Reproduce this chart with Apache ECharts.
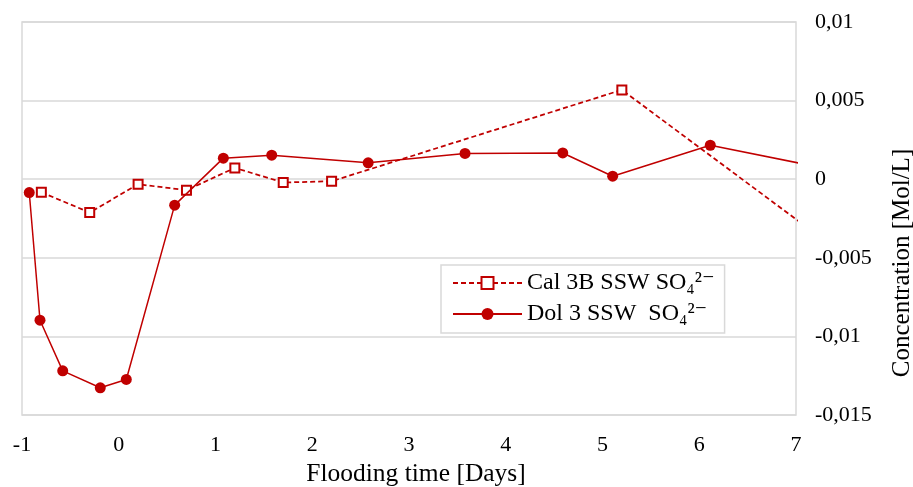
<!DOCTYPE html>
<html>
<head>
<meta charset="utf-8">
<script src="https://cdn.jsdelivr.net/npm/echarts@6/dist/echarts.min.js"></script>
<style>
  html, body { margin: 0; padding: 0; background: #fff; }
  #chart { width: 913px; height: 487px; }
</style>
</head>
<body>
<div id="chart"></div>
<script>
// Sulfate concentration vs. flooding time for two core samples
const seriesNames = ['Cal 3B SSW SO\u2084\u00B2\u207B', 'Dol 3 SSW  SO\u2084\u00B2\u207B'];

const calDays = [-0.80, -0.30, 0.20, 0.70, 1.20, 1.70, 2.20, 5.20, 8.20];
const calConc = [-0.00083, -0.00212, -0.00032, -0.00070, 0.00072, -0.00021, -0.00013, 0.00568, -0.00803];

const dolDays = [-0.925, -0.814, -0.579, -0.191, 0.078, 0.578, 1.081, 1.581, 2.578, 3.579, 4.589, 5.105, 6.114, 7.10];
const dolConc = [-0.00085, -0.00897, -0.01219, -0.01327, -0.01274, -0.00165, 0.00134, 0.00153, 0.00104, 0.00164, 0.00167, 0.00019, 0.00216, 0.00094];

const xTicks = { min: -1, max: 7, interval: 1 };
const yTicks = { min: -0.015, max: 0.01, interval: 0.005 };

const pair = (xs, ys) => xs.map((x, i) => [x, ys[i]]);
const red = '#C00000';
const serif = '"Liberation Serif", "DejaVu Serif", serif';
const fmtComma = v => {
  const r = Math.round(v * 1e6) / 1e6;
  return String(r).replace('.', ',');
};

const chart = echarts.init(document.getElementById('chart'), null, { renderer: 'canvas' });
chart.setOption({
  animation: false,
  backgroundColor: '#fff',
  textStyle: { fontFamily: serif },
  grid: {
    left: 22, right: 117, top: 22, bottom: 72,
    outerBoundsMode: 'none',
    containLabel: false,
    show: true, borderColor: '#D9D9D9', borderWidth: 1.5
  },
  legend: {
    orient: 'vertical',
    left: 441, top: 265,
    padding: [5, 10, 6, 11],
    itemWidth: 69, itemHeight: 15, itemGap: 5,
    backgroundColor: '#fff',
    borderColor: '#D9D9D9', borderWidth: 1.5,
    textStyle: { fontFamily: serif, fontSize: 24, color: '#000', lineHeight: 26 },
    data: seriesNames
  },
  xAxis: {
    type: 'value',
    min: xTicks.min, max: xTicks.max, interval: xTicks.interval,
    name: 'Flooding time [Days]',
    nameLocation: 'middle', nameGap: 46,
    nameTextStyle: { fontFamily: serif, fontSize: 25.5, color: '#000', padding: [0, 0, 0, 14] },
    axisLine: { show: false, onZero: false },
    axisTick: { show: false },
    splitLine: { show: false },
    axisLabel: { fontFamily: serif, fontSize: 22, color: '#000', margin: 19 }
  },
  yAxis: {
    type: 'value',
    position: 'right',
    min: yTicks.min, max: yTicks.max, interval: yTicks.interval,
    axisLine: { show: false },
    axisTick: { show: false },
    splitLine: { show: true, lineStyle: { color: '#D9D9D9', width: 1.5 } },
    axisLabel: { fontFamily: serif, fontSize: 22, color: '#000', margin: 19, formatter: fmtComma }
  },
  graphic: [{
    type: 'text',
    x: 902, y: 263,
    rotation: Math.PI / 2,
    style: {
      text: 'Concentration [Mol/L]',
      font: '25px ' + serif,
      fill: '#000',
      align: 'center',
      verticalAlign: 'middle'
    }
  }],
  series: [
    {
      name: seriesNames[0],
      type: 'line',
      data: pair(calDays, calConc),
      clip: true,
      symbol: 'rect',
      symbolSize: 9,
      itemStyle: { color: '#fff', borderColor: red, borderWidth: 2 },
      lineStyle: { color: red, width: 1.75, type: [5, 3] },
      z: 3
    },
    {
      name: seriesNames[1],
      type: 'line',
      data: pair(dolDays, dolConc),
      clip: true,
      symbol: 'circle',
      symbolSize: 11,
      itemStyle: { color: red },
      lineStyle: { color: red, width: 1.5 },
      z: 4
    }
  ]
});
</script>
</body>
</html>
